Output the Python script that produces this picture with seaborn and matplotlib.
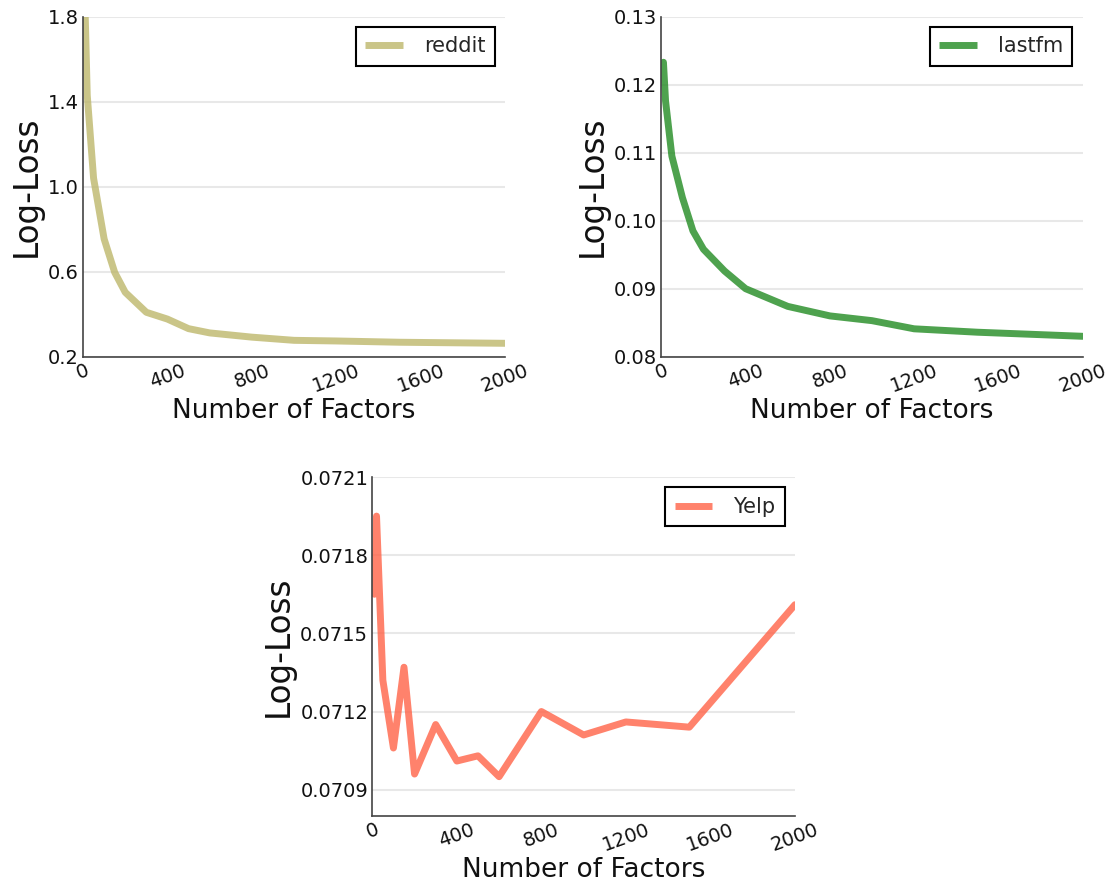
import matplotlib
matplotlib.use("Agg")
import matplotlib.pyplot as plt
import seaborn as sns
import pandas as pd
import numpy as np

# Number of latent factors evaluated
factors = [10, 20, 50, 100, 150, 200, 300, 400, 500, 600, 800, 1000, 1200, 1500, 2000]

# Log-loss on each dataset
reddit_loss = [1.82, 1.43, 1.04, 0.754, 0.597, 0.503, 0.409, 0.377, 0.332, 0.312,
               0.292, 0.277, 0.274, 0.268, 0.263]
lastfm_loss = [0.1233, 0.1176, 0.1095, 0.1034, 0.0985, 0.0958, 0.0926, 0.0900,
               0.0887, 0.0874, 0.0860, 0.0853, 0.0841, 0.0836, 0.0830]
yelp_loss = [0.07165, 0.07195, 0.07132, 0.07106, 0.07137, 0.07096, 0.07115, 0.07101,
             0.07103, 0.07095, 0.07120, 0.07111, 0.07116, 0.07114, 0.07161]

x_ticks = [0, 400, 800, 1200, 1600, 2000]
reddit_ticks = [0.2, 0.6, 1.0, 1.4, 1.8]
lastfm_ticks = [0.08, 0.09, 0.10, 0.11, 0.12, 0.13]
yelp_ticks = [0.0709, 0.0712, 0.0715, 0.0718, 0.0721]

sns.set_style("white")
plt.rcParams["font.family"] = ["DejaVu Sans"]

fig = plt.figure(figsize=(11.1, 8.84), dpi=100)

panels = [
    ("reddit", reddit_loss, "darkkhaki", [0.0748, 0.5965, 0.3802, 0.3846],
     (0.2, 1.8), reddit_ticks, "{:.1f}"),
    ("lastfm", lastfm_loss, "forestgreen", [0.5958, 0.5965, 0.3796, 0.3846],
     (0.08, 0.13), lastfm_ticks, "{:.2f}"),
    ("Yelp", yelp_loss, "tomato", [0.3354, 0.0772, 0.3808, 0.3832],
     (0.0708, 0.0721), yelp_ticks, "{:.4f}"),
]

for name, values, color, rect, ylim, yticks, fmt in panels:
    ax = fig.add_axes(rect)
    df = pd.DataFrame({"Number of Factors": factors, "Log-Loss": values})
    sns.lineplot(data=df, x="Number of Factors", y="Log-Loss", ax=ax,
                 color=color, alpha=0.8, linewidth=5, label=name)
    ax.set_xlim(0, 2000)
    ax.set_ylim(*ylim)
    ax.set_xticks(x_ticks)
    ax.set_xticklabels([str(t) for t in x_ticks], rotation=20, ha="center")
    ax.set_yticks(yticks)
    ax.set_yticklabels([fmt.format(t) for t in yticks])
    ax.tick_params(axis="both", direction="in", length=4, width=1,
                   color="#555555", labelsize=14, pad=3, labelcolor="#111111")
    ax.yaxis.grid(True, color="#e8e8e8", linewidth=1.5)
    ax.xaxis.grid(False)
    for side in ("top", "right"):
        ax.spines[side].set_visible(False)
    for side in ("left", "bottom"):
        ax.spines[side].set_color("#444444")
        ax.spines[side].set_linewidth(1.2)
    ax.set_xlabel("Number of Factors", fontsize=19, labelpad=2, color="#111111")
    ax.set_ylabel("Log-Loss", fontsize=23.5, labelpad=4, color="#111111")
    leg = ax.legend(loc="upper right", fontsize=15, frameon=True, fancybox=False,
                    framealpha=1, edgecolor="black", handlelength=1.8,
                    handletextpad=1.0, borderpad=0.45)
    leg.get_frame().set_linewidth(1.5)
    for line in leg.get_lines():
        line.set_linewidth(5)
        line.set_solid_capstyle("butt")

fig.savefig("out.png", dpi=100)
